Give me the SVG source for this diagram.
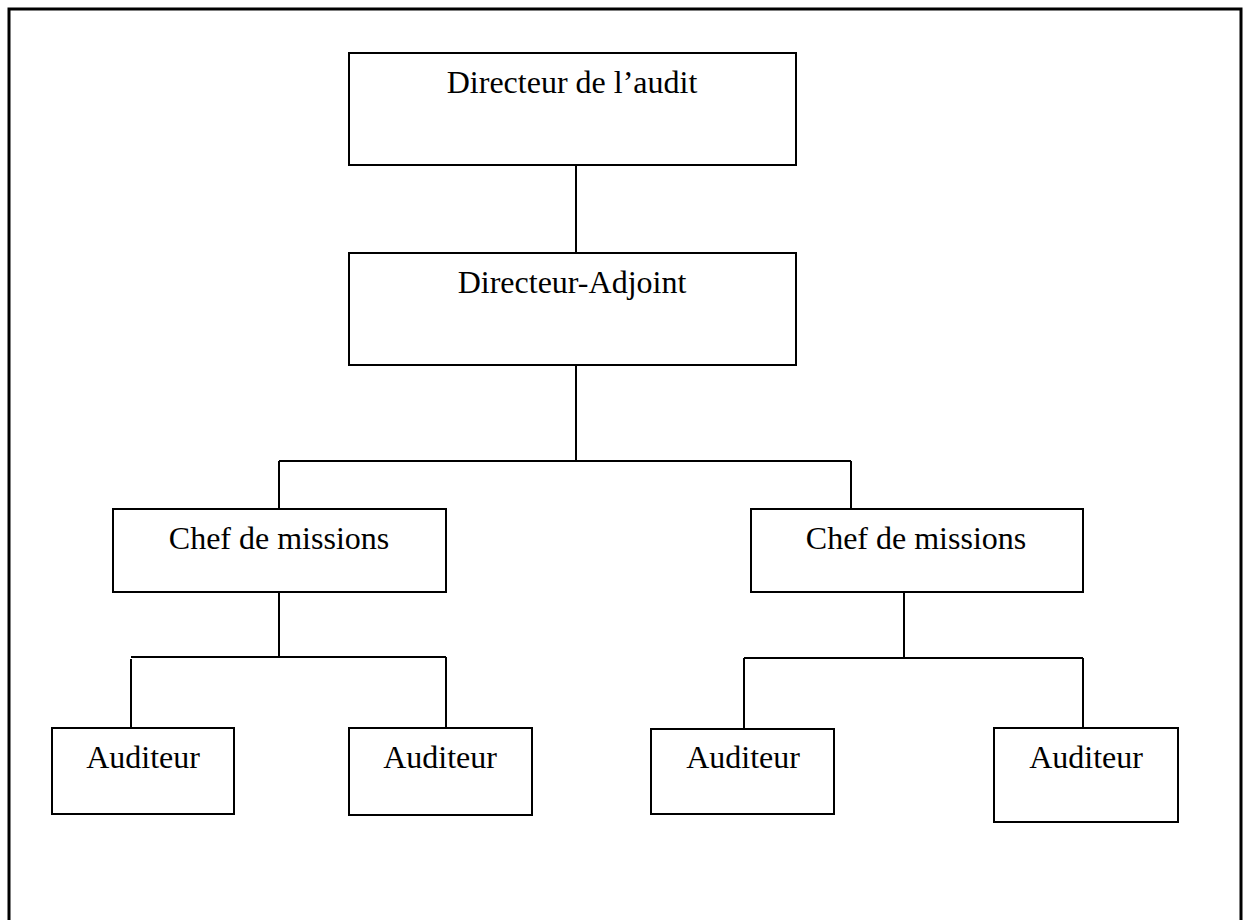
<svg xmlns="http://www.w3.org/2000/svg" width="1243" height="920" viewBox="0 0 1243 920">
<style>
.box{fill:#fff;stroke:#000;stroke-width:2}
.lbl{font-family:"Liberation Serif","Times New Roman",serif;font-size:32px;fill:#000;text-anchor:middle}
.con{fill:none;stroke:#000;stroke-width:2}
</style>
<rect width="1243" height="920" fill="#fff"/>
<path d="M9 920 V9 H1241 V920" fill="none" stroke="#000" stroke-width="3"/>
<g id="connectors">
<path class="con" d="M576 165 V253"/>
<path class="con" d="M576 365 V461 M279 461 H851 M279 461 V509 M851 461 V509"/>
<path class="con" d="M279 592 V657 M131 657 H446 M131 659 V728 M446 657 V728"/>
<path class="con" d="M904 592 V658 M744 658 H1083 M744 658 V729 M1083 658 V728"/>
</g>
<g id="n-directeur"><rect class="box" x="349" y="53" width="447" height="112"/><text class="lbl" x="572" y="93">Directeur de l’audit</text></g>
<g id="n-adjoint"><rect class="box" x="349" y="253" width="447" height="112"/><text class="lbl" x="572" y="293">Directeur-Adjoint</text></g>
<g id="n-chef1"><rect class="box" x="113" y="509" width="333" height="83"/><text class="lbl" x="279" y="549">Chef de missions</text></g>
<g id="n-chef2"><rect class="box" x="751" y="509" width="332" height="83"/><text class="lbl" x="916" y="549">Chef de missions</text></g>
<g id="n-aud1"><rect class="box" x="52" y="728" width="182" height="86"/><text class="lbl" x="143" y="768">Auditeur</text></g>
<g id="n-aud2"><rect class="box" x="349" y="728" width="183" height="87"/><text class="lbl" x="440" y="768">Auditeur</text></g>
<g id="n-aud3"><rect class="box" x="651" y="729" width="183" height="85"/><text class="lbl" x="743" y="768">Auditeur</text></g>
<g id="n-aud4"><rect class="box" x="994" y="728" width="184" height="94"/><text class="lbl" x="1086" y="768">Auditeur</text></g>
</svg>
